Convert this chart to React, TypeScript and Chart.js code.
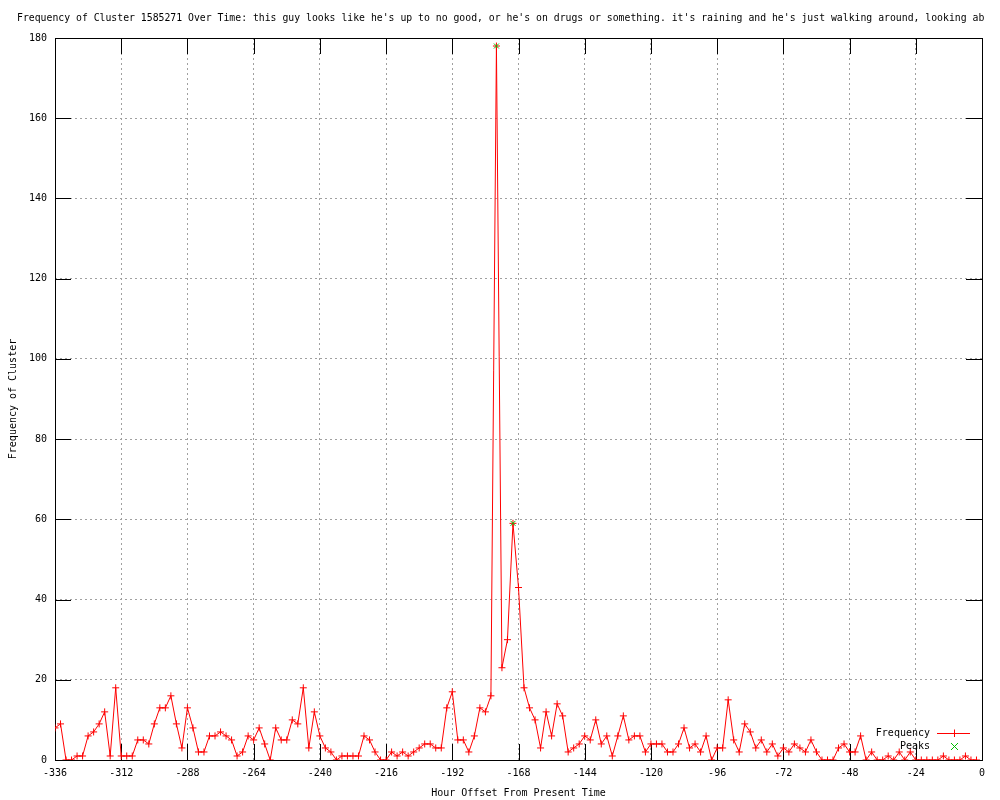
import React, { useEffect, useRef } from "react";
import { Chart, registerables } from "chart.js";

Chart.register(...registerables);

const TITLE =
  "Frequency of Cluster 1585271 Over Time: this guy looks like he's up to no good, or he's on drugs or something. it's raining and he's just walking around, looking ab";
const X_TITLE = "Hour Offset From Present Time";
const Y_TITLE = "Frequency of Cluster";
const SERIES_LABEL = "Frequency";
const PEAKS_LABEL = "Peaks";

const HOURS = [
  -336, -334, -332, -330, -328, -326, -324, -322, -320, -318,
  -316, -314, -312, -310, -308, -306, -304, -302, -300, -298,
  -296, -294, -292, -290, -288, -286, -284, -282, -280, -278,
  -276, -274, -272, -270, -268, -266, -264, -262, -260, -258,
  -256, -254, -252, -250, -248, -246, -244, -242, -240, -238,
  -236, -234, -232, -230, -228, -226, -224, -222, -220, -218,
  -216, -214, -212, -210, -208, -206, -204, -202, -200, -198,
  -196, -194, -192, -190, -188, -186, -184, -182, -180, -178,
  -176, -174, -172, -170, -168, -166, -164, -162, -160, -158,
  -156, -154, -152, -150, -148, -146, -144, -142, -140, -138,
  -136, -134, -132, -130, -128, -126, -124, -122, -120, -118,
  -116, -114, -112, -110, -108, -106, -104, -102, -100, -98,
  -96, -94, -92, -90, -88, -86, -84, -82, -80, -78,
  -76, -74, -72, -70, -68, -66, -64, -62, -60, -58,
  -56, -54, -52, -50, -48, -46, -44, -42, -40, -38,
  -36, -34, -32, -30, -28, -26, -24, -22, -20, -18,
  -16, -14, -12, -10, -8, -6, -4, -2,
];

const FREQUENCY = [
  8, 9, 0, 0, 1, 1, 6, 7, 9, 12,
  1, 18, 1, 1, 1, 5, 5, 4, 9, 13,
  13, 16, 9, 3, 13, 8, 2, 2, 6, 6,
  7, 6, 5, 1, 2, 6, 5, 8, 4, 0,
  8, 5, 5, 10, 9, 18, 3, 12, 6, 3,
  2, 0, 1, 1, 1, 1, 6, 5, 2, 0,
  0, 2, 1, 2, 1, 2, 3, 4, 4, 3,
  3, 13, 17, 5, 5, 2, 6, 13, 12, 16,
  178, 23, 30, 59, 43, 18, 13, 10, 3, 12,
  6, 14, 11, 2, 3, 4, 6, 5, 10, 4,
  6, 1, 6, 11, 5, 6, 6, 2, 4, 4,
  4, 2, 2, 4, 8, 3, 4, 2, 6, 0,
  3, 3, 15, 5, 2, 9, 7, 3, 5, 2,
  4, 1, 3, 2, 4, 3, 2, 5, 2, 0,
  0, 0, 3, 4, 2, 2, 6, 0, 2, 0,
  0, 1, 0, 2, 0, 2, 0, 0, 0, 0,
  0, 1, 0, 0, 0, 1, 0, 0,
];

const PEAK_HOURS = [-176, -170];
const PEAK_VALUES = [178, 59];

const X_MIN = -336;
const X_MAX = 0;
const X_STEP = 24;
const Y_MIN = 0;
const Y_MAX = 180;
const Y_STEP = 20;

const FONT_FAMILY = "'DejaVu Sans Mono', 'Liberation Mono', monospace";
const RED = "#ff0000";
const GREEN = "#00c000";

function line(ctx: CanvasRenderingContext2D, x1: number, y1: number, x2: number, y2: number) {
  ctx.beginPath();
  ctx.moveTo(x1, y1);
  ctx.lineTo(x2, y2);
  ctx.stroke();
}

const gnuplotDecor = {
  id: "gnuplotDecor",
  beforeDatasetsDraw(chart: any) {
    const { ctx, chartArea: a, scales } = chart;
    ctx.save();
    ctx.strokeStyle = "#000";
    ctx.lineWidth = 1;
    ctx.setLineDash([]);
    const len = 16;
    scales.x.ticks.forEach((t: any) => {
      const px = Math.round(scales.x.getPixelForValue(t.value)) + 0.5;
      line(ctx, px, a.bottom, px, a.bottom - len);
      line(ctx, px, a.top, px, a.top + len);
    });
    scales.y.ticks.forEach((t: any) => {
      const py = Math.round(scales.y.getPixelForValue(t.value)) + 0.5;
      line(ctx, a.left, py, a.left + len, py);
      line(ctx, a.right, py, a.right - len, py);
    });
    ctx.strokeRect(a.left + 0.5, a.top + 0.5, a.right - a.left, a.bottom - a.top);
    ctx.restore();
  },
  afterDraw(chart: any) {
    const { ctx } = chart;
    ctx.save();
    ctx.fillStyle = "#000";
    ctx.font = `9.8px ${FONT_FAMILY}`;
    ctx.textBaseline = "middle";
    ctx.textAlign = "left";
    ctx.fillText(TITLE, 17, 18);

    // key
    ctx.font = `10px ${FONT_FAMILY}`;
    const ds = chart.data.datasets;
    const textRight = 930;
    const sx1 = 937;
    const sx2 = 970;
    const smid = 954;
    const y1 = 733;
    const y2 = 746;
    ctx.textAlign = "right";
    ctx.fillText(ds[0].label, textRight, y1);
    ctx.fillText(ds[1].label, textRight, y2);
    ctx.strokeStyle = RED;
    ctx.lineWidth = 1;
    line(ctx, sx1, y1 + 0.5, sx2, y1 + 0.5);
    line(ctx, smid + 0.5, y1 - 3.5, smid + 0.5, y1 + 4);
    ctx.strokeStyle = GREEN;
    line(ctx, smid - 3, y2 - 3, smid + 4, y2 + 4);
    line(ctx, smid + 4, y2 - 3, smid - 3, y2 + 4);
    ctx.restore();
  },
};

export default function App() {
  const canvasRef = useRef<HTMLCanvasElement | null>(null);

  useEffect(() => {
    const canvas = canvasRef.current;
    if (!canvas) return;
    const freqData = HOURS.map((h, i) => ({ x: h, y: FREQUENCY[i] }));
    const peakData = PEAK_HOURS.map((h, i) => ({ x: h, y: PEAK_VALUES[i] }));

    const chart = new Chart(canvas, {
      type: "line",
      data: {
        datasets: [
          {
            label: SERIES_LABEL,
            data: freqData,
            borderColor: RED,
            backgroundColor: RED,
            borderWidth: 1,
            pointStyle: "cross",
            pointRadius: 3.5,
            pointBorderWidth: 1,
            pointBorderColor: RED,
            tension: 0,
            fill: false,
            order: 1,
          },
          {
            label: PEAKS_LABEL,
            data: peakData,
            showLine: false,
            borderColor: GREEN,
            backgroundColor: GREEN,
            pointStyle: "crossRot",
            pointRadius: 3.5,
            pointBorderWidth: 1,
            pointBorderColor: GREEN,
            order: 0,
          },
        ],
      },
      options: {
        responsive: false,
        animation: false,
        devicePixelRatio: 1,
        layout: { padding: { top: 38, right: 18, left: 0, bottom: 0 } },
        plugins: {
          legend: { display: false },
          title: { display: false },
          tooltip: { enabled: false },
        },
        scales: {
          x: {
            type: "linear",
            min: X_MIN,
            max: X_MAX,
            afterFit: (s: any) => {
              s.height = 40;
            },
            ticks: {
              stepSize: X_STEP,
              autoSkip: false,
              maxRotation: 0,
              padding: 7,
              color: "#000",
              font: { family: FONT_FAMILY, size: 10 },
            },
            grid: {
              color: "#a0a0a0",
              lineWidth: 1,
              drawTicks: false,
            },
            border: { display: false, dash: [2, 3] },
            title: {
              display: true,
              text: X_TITLE,
              color: "#000",
              font: { family: FONT_FAMILY, size: 10 },
              padding: { top: 0, bottom: 1 },
            },
          },
          y: {
            type: "linear",
            min: Y_MIN,
            max: Y_MAX,
            afterFit: (s: any) => {
              s.width = 55;
            },
            ticks: {
              stepSize: Y_STEP,
              padding: 8,
              color: "#000",
              font: { family: FONT_FAMILY, size: 10 },
            },
            grid: {
              color: "#a0a0a0",
              lineWidth: 1,
              drawTicks: false,
            },
            border: { display: false, dash: [2, 3] },
            title: {
              display: true,
              text: Y_TITLE,
              color: "#000",
              font: { family: FONT_FAMILY, size: 10 },
              padding: { top: 7, bottom: 0 },
            },
          },
        },
      },
      plugins: [gnuplotDecor],
    });
    return () => chart.destroy();
  }, []);

  return (
    <div style={{ position: "fixed", left: 0, top: 0, width: 1000, height: 800, background: "#fff" }}>
      <canvas ref={canvasRef} width={1000} height={800} style={{ display: "block", width: 1000, height: 800 }} />
    </div>
  );
}
